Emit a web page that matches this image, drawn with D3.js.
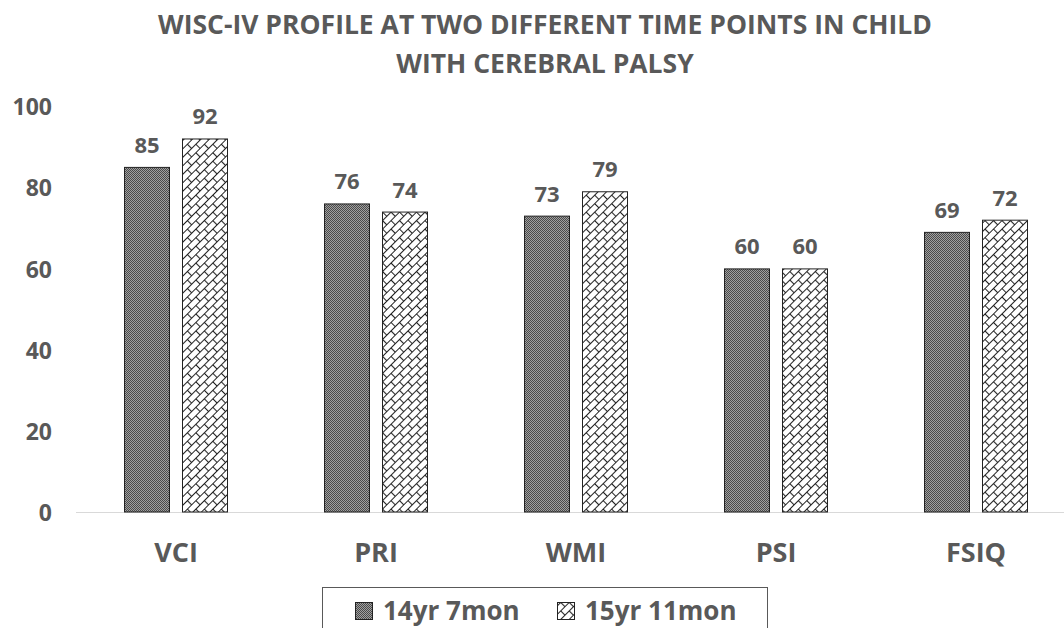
<!DOCTYPE html>
<html>
<head>
<meta charset="utf-8">
<script src="https://cdn.jsdelivr.net/npm/d3@7"></script>
<style>
  body { margin: 0; background: #fff; }
  text { font-family: "Open Sans", "Noto Sans", sans-serif; font-weight: bold; fill: #595959; }
</style>
</head>
<body>
<script>
const categories = ["VCI", "PRI", "WMI", "PSI", "FSIQ"];
const seriesNames = ["14yr 7mon", "15yr 11mon"];
const series1 = [85, 76, 73, 60, 69];
const series2 = [92, 74, 79, 60, 72];
const yTicks = [0, 20, 40, 60, 80, 100];

const w = 1064, h = 628;
const plotLeft = 76, plotRight = 1076, plotTop = 106, plotBottom = 512;

const svg = d3.select("body").append("svg")
  .attr("width", w).attr("height", h);

const defs = svg.append("defs");
// fine dark dotted fill
const dark = defs.append("pattern").attr("id", "dark")
  .attr("patternUnits", "userSpaceOnUse").attr("width", 2).attr("height", 2);
dark.append("rect").attr("width", 2).attr("height", 2).attr("fill", "#a0a0a0");
dark.append("rect").attr("width", 1).attr("height", 1).attr("fill", "#4a4a4a");
dark.append("rect").attr("x", 1).attr("y", 1).attr("width", 1).attr("height", 1).attr("fill", "#4a4a4a");

// diagonal brick fill
const brick = defs.append("pattern").attr("id", "brick")
  .attr("patternUnits", "userSpaceOnUse").attr("width", 12).attr("height", 12)
  .attr("patternTransform", "rotate(-45)");
brick.append("rect").attr("width", 12).attr("height", 12).attr("fill", "#fff");
brick.append("path")
  .attr("d", "M0,0.5H12M0,6.5H12M0.5,0V6M6.5,6V12")
  .attr("stroke", "#222").attr("stroke-width", 1.1).attr("fill", "none");

const x0 = d3.scaleBand().domain(categories).range([plotLeft, plotRight]);
const x1 = d3.scaleBand().domain([0, 1]).range([48, 152]).paddingInner(0.207);
const y = d3.scaleLinear().domain([0, 100]).range([plotBottom, plotTop]);

// title
svg.append("text").attr("x", 545).attr("y", 34).attr("text-anchor", "middle")
  .style("font-size", "26.5px").text("WISC-IV PROFILE AT TWO DIFFERENT TIME POINTS IN CHILD");
svg.append("text").attr("x", 545).attr("y", 73).attr("text-anchor", "middle")
  .style("font-size", "26.5px").text("WITH CEREBRAL PALSY");

// y axis labels
const yAxis = d3.axisLeft(y).tickValues(yTicks).tickSize(0).tickPadding(24);
const gy = svg.append("g").attr("transform", `translate(${plotLeft},0)`).call(yAxis);
gy.select(".domain").remove();
gy.selectAll("text").style("font-size", "23px").attr("dy", "0.38em");

// baseline
svg.append("line").attr("x1", plotLeft).attr("x2", w).attr("y1", plotBottom + 0.5).attr("y2", plotBottom + 0.5)
  .attr("stroke", "#d9d9d9").attr("stroke-width", 1);

const fills = ["url(#dark)", "url(#brick)"];
const all = [series1, series2];

all.forEach((vals, s) => {
  const g = svg.append("g");
  g.selectAll("rect").data(vals).enter().append("rect")
    .attr("x", (d, i) => x0(categories[i]) + x1(s) + 0.5)
    .attr("y", d => y(d) + 0.5)
    .attr("width", x1.bandwidth() - 1)
    .attr("height", d => plotBottom - y(d) - 0.5)
    .attr("fill", fills[s])
    .attr("stroke", "#222").attr("stroke-width", 1);
  g.selectAll("text").data(vals).enter().append("text")
    .attr("x", (d, i) => x0(categories[i]) + x1(s) + x1.bandwidth() / 2)
    .attr("y", d => y(d) - 14)
    .attr("text-anchor", "middle")
    .style("font-size", "22px")
    .text(d => d);
});

// x axis labels
const xAxis = d3.axisBottom(x0).tickSize(0).tickPadding(31);
const gx = svg.append("g").attr("transform", `translate(0,${plotBottom})`).call(xAxis);
gx.select(".domain").remove();
gx.selectAll("text").style("font-size", "27px");

// legend
const lg = svg.append("g");
lg.append("rect").attr("x", 322.5).attr("y", 587.5).attr("width", 445).attr("height", 60)
  .attr("fill", "#fff").attr("stroke", "#595959").attr("stroke-width", 1);
const legX = [355, 557];
seriesNames.forEach((n, i) => {
  lg.append("rect").attr("x", legX[i] + 0.5).attr("y", 602.5).attr("width", 17).attr("height", 17)
    .attr("fill", fills[i]).attr("stroke", "#222");
  lg.append("text").attr("x", legX[i] + 28).attr("y", 620)
    .style("font-size", "26px").text(n);
});
</script>
</body>
</html>
